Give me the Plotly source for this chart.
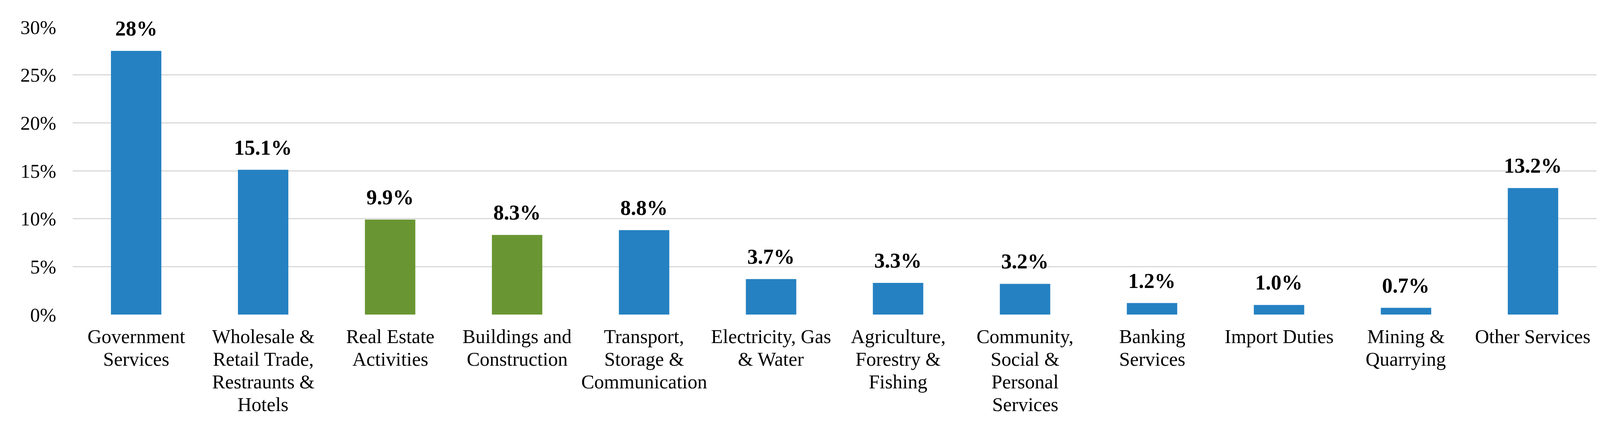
import plotly.graph_objects as go

categories = [
    "Government Services",
    "Wholesale & Retail Trade, Restraunts & Hotels",
    "Real Estate Activities",
    "Buildings and Construction",
    "Transport, Storage & Communication",
    "Electricity, Gas & Water",
    "Agriculture, Forestry & Fishing",
    "Community, Social & Personal Services",
    "Banking Services",
    "Import Duties",
    "Mining & Quarrying",
    "Other Services",
]
# how each category label is wrapped under its bar
category_lines = [
    ["Government", "Services"],
    ["Wholesale &", "Retail Trade,", "Restraunts &", "Hotels"],
    ["Real Estate", "Activities"],
    ["Buildings and", "Construction"],
    ["Transport,", "Storage &", "Communication"],
    ["Electricity, Gas", "& Water"],
    ["Agriculture,", "Forestry &", "Fishing"],
    ["Community,", "Social &", "Personal", "Services"],
    ["Banking", "Services"],
    ["Import Duties"],
    ["Mining &", "Quarrying"],
    ["Other Services"],
]
values = [27.5, 15.1, 9.9, 8.3, 8.8, 3.7, 3.3, 3.2, 1.2, 1.0, 0.7, 13.2]
value_labels = ["28%", "15.1%", "9.9%", "8.3%", "8.8%", "3.7%", "3.3%",
                "3.2%", "1.2%", "1.0%", "0.7%", "13.2%"]
BLUE = "#2581C2"
GREEN = "#699632"
bar_colors = [BLUE, BLUE, GREEN, GREEN, BLUE, BLUE, BLUE, BLUE, BLUE, BLUE, BLUE, BLUE]
y_ticks = [0, 5, 10, 15, 20, 25, 30]
y_tick_labels = ["0%", "5%", "10%", "15%", "20%", "25%", "30%"]

FONT = "Liberation Serif, Times New Roman, serif"
LABEL_SIZE = 50
LINE_STEP = 58

fig = go.Figure()
fig.add_trace(go.Bar(
    x=categories,
    y=values,
    marker=dict(color=bar_colors, line=dict(width=0)),
    hoverinfo="skip",
))

# bold value labels above bars
for c, v, t in zip(categories, values, value_labels):
    fig.add_annotation(
        x=c, y=v, text="<b>%s</b>" % t, showarrow=False,
        xanchor="center", yanchor="bottom", yshift=25,
        font=dict(family=FONT, size=54, color="black"),
    )

# category labels, line by line (tight line spacing as in the original)
for c, lines in zip(categories, category_lines):
    for i, line in enumerate(lines):
        fig.add_annotation(
            x=c, xref="x", y=0, yref="paper", text=line, showarrow=False,
            xanchor="center", yanchor="middle", yshift=-(56 + LINE_STEP * i),
            font=dict(family=FONT, size=LABEL_SIZE, color="black"),
        )

fig.update_layout(
    width=4102, height=1080,
    margin=dict(l=178, r=23, t=61, b=283),
    paper_bgcolor="white", plot_bgcolor="white",
    bargap=0.603,
    showlegend=False,
    font=dict(family=FONT, size=LABEL_SIZE, color="black"),
)
fig.update_xaxes(
    showgrid=False, showline=False, zeroline=False, ticks="",
    showticklabels=False, automargin=False,
)
fig.update_yaxes(
    range=[0, 30], tickvals=y_ticks, ticktext=y_tick_labels,
    showgrid=True, gridcolor="#D9D9D9", gridwidth=3,
    zeroline=False, showline=False, ticks="",
    tickfont=dict(family=FONT, size=LABEL_SIZE, color="black"),
    automargin=False, ticklabelstandoff=41,
)

fig.write_html("out.html")
